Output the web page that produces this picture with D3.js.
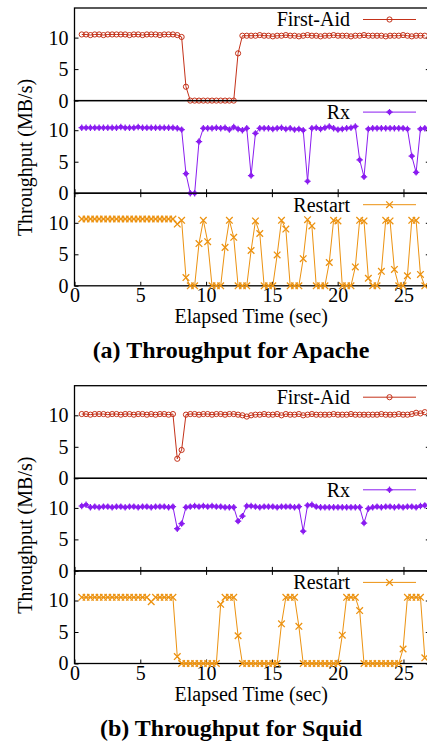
<!DOCTYPE html>
<html>
<head>
<meta charset="utf-8">
<script src="https://cdn.jsdelivr.net/npm/d3@7"></script>
<style>
  body { margin: 0; background: #fff; }
  svg { display: block; }
</style>
</head>
<body>
<div id="chart"></div>
<script>

/* ::::::::::::::::::::::::::::::::::::::::::::::::::::: */
/* @@@ DATAS @@@ */
/* ::::::::::::::::::::::::::::::::::::::::::::::::::::: */

// one sample every 0.33 s, starting at 0.55 s
let sampleStart = 0.55
let sampleStep = 0.33

let xTicks = [0, 5, 10, 15, 20, 25]
let yTicks = [0, 5, 10]
let seriesNames = ["First-Aid", "Rx", "Restart"]
let captions = ["(a) Throughput for Apache", "(b) Throughput for Squid"]

let firstAidApache = [
  10.5, 10.5, 10.4, 10.5, 10.5, 10.4, 10.5, 10.5, 10.5, 10.5,
  10.5, 10.4, 10.5, 10.5, 10.4, 10.5, 10.5, 10.5, 10.4, 10.5,
  10.5, 10.5, 10.4, 10.1, 2.2, 0, 0, 0, 0, 0,
  0, 0, 0, 0, 0, 0, 7.5, 10.3, 10.3, 10.3,
  10.3, 10.4, 10.3, 10.3, 10.2, 10.3, 10.3, 10.4, 10.3, 10.3,
  10.2, 10.3, 10.4, 10.3, 10.3, 10.2, 10.3, 10.3, 10.4, 10.3,
  10.3, 10.3, 10.2, 10.3, 10.3, 10.4, 10.3, 10.3, 10.3, 10.3,
  10.2, 10.3, 10.3, 10.3, 10.4, 10.3, 10.2, 10.3, 10.3, 10.3
]
let rxApache = [
  10.4, 10.4, 10.4, 10.4, 10.4, 10.4, 10.4, 10.4, 10.4, 10.5,
  10.4, 10.4, 10.4, 10.5, 10.4, 10.4, 10.4, 10.4, 10.4, 10.4,
  10.4, 10.4, 10.3, 10.1, 3.1, 0, 0, 8.2, 10.3, 10.3,
  10.3, 10.4, 10.3, 10.4, 10.1, 10.5, 10.2, 10.0, 10.3, 2.8,
  9.5, 10.3, 10.3, 10.3, 10.2, 10.3, 10.4, 10.2, 10.3, 10.1,
  10.2, 10.0, 1.9, 10.3, 10.4, 10.2, 10.4, 10.6, 10.3, 10.1,
  10.2, 10.3, 10.4, 10.6, 5.3, 2.6, 10.2, 10.3, 10.3, 10.3,
  10.3, 10.3, 10.3, 10.3, 10.3, 10.2, 5.9, 3.3, 10.2, 10.3
]
let restartApache = [
  10.6, 10.6, 10.6, 10.6, 10.6, 10.6, 10.6, 10.6, 10.6, 10.6,
  10.6, 10.6, 10.6, 10.6, 10.6, 10.6, 10.6, 10.6, 10.6, 10.6,
  10.6, 10.6, 9.8, 10.4, 1.3, 0, 0, 6.7, 10.4, 7.0,
  0, 0, 0, 6.1, 10.4, 7.7, 0, 0, 0, 5.6,
  10.3, 8.3, 0, 0, 0, 4.9, 10.4, 9.0, 0, 0,
  0, 4.3, 10.5, 9.5, 0, 0, 0, 3.7, 10.4, 10.3,
  0, 0, 0, 3.0, 10.4, 10.3, 1.2, 0, 0, 2.3,
  10.4, 10.3, 2.6, 0, 0, 1.6, 10.4, 10.4, 1.8, 0
]

let firstAidSquid = [
  10.2, 10.2, 10.1, 10.2, 10.2, 10.2, 10.1, 10.2, 10.2, 10.1,
  10.2, 10.2, 10.1, 10.2, 10.2, 10.1, 10.2, 10.1, 10.2, 10.2,
  10.1, 10.2, 3.1, 4.5, 10.1, 10.2, 10.2, 10.1, 10.2, 10.2,
  10.1, 10.2, 10.2, 10.1, 10.2, 10.2, 10.1, 10.0, 9.8, 10.0,
  10.1, 10.1, 10.2, 10.1, 10.1, 10.2, 10.0, 10.2, 10.1, 10.1,
  10.2, 10.0, 10.1, 10.2, 10.1, 10.1, 10.1, 10.1, 10.2, 10.1,
  10.1, 10.1, 10.2, 10.1, 10.1, 10.1, 10.1, 10.1, 10.1, 10.2,
  10.1, 10.1, 10.1, 10.2, 10.1, 10.1, 10.2, 10.4, 10.3, 10.5
]
let rxSquid = [
  10.3, 10.5, 10.1, 10.2, 10.1, 10.2, 10.2, 10.1, 10.2, 10.2,
  10.1, 10.2, 10.2, 10.1, 10.2, 10.2, 10.1, 10.2, 10.2, 10.2,
  10.1, 10.2, 6.7, 7.5, 10.1, 10.2, 10.3, 10.2, 10.3, 10.2,
  10.3, 10.2, 10.2, 10.1, 10.1, 10.1, 7.9, 8.7, 10.3, 10.3,
  10.2, 10.1, 10.2, 10.2, 10.2, 10.1, 10.2, 10.2, 10.2, 10.1,
  10.2, 6.3, 10.4, 10.5, 10.2, 10.1, 10.1, 10.1, 10.1, 10.1,
  10.1, 10.1, 10.1, 10.1, 10.1, 7.6, 9.9, 10.1, 10.2, 10.1,
  10.2, 10.2, 10.1, 10.2, 10.1, 10.2, 10.2, 10.1, 10.3, 10.4
]
let restartSquid = [
  10.5, 10.5, 10.5, 10.5, 10.5, 10.5, 10.5, 10.5, 10.5, 10.5,
  10.5, 10.5, 10.5, 10.5, 10.5, 10.5, 9.8, 10.5, 10.5, 10.5,
  10.5, 10.5, 1.1, 0, 0, 0, 0, 0, 0, 0,
  0, 0, 9.4, 10.5, 10.5, 10.5, 4.4, 0, 0, 0,
  0, 0, 0, 0, 0, 0, 6.3, 10.5, 10.5, 10.5,
  5.9, 0, 0, 0, 0, 0, 0, 0, 0, 0,
  4.5, 10.5, 10.5, 10.5, 8.4, 0, 0, 0, 0, 0,
  0, 0, 0, 0, 2.3, 10.5, 10.5, 10.5, 10.5, 0.9
]

/* ::::::::::::::::::::::::::::::::::::::::::::::::::::: */
/* @@@ CONSTANTS @@@ */
/* ::::::::::::::::::::::::::::::::::::::::::::::::::::: */

let w = 427
let h = 742
let plotLeft = 74.5
let plotRight = 429.8
let panelH = 92.6
let yMax = 14.7
let figureTops = [8, 385.7]
let colors = ["#c4321a", "#8a1cf0", "#ec9210"]
let tickLen = 4
let serif = "'Liberation Serif'"

let x = d3.scaleLinear().domain([0, 27]).range([plotLeft, plotRight])

let svg = d3.select("#chart")
    .append("svg")
    .attr("width", w)
    .attr("height", h)
    .style("font-family", serif)

svg.append("rect").attr("width", w).attr("height", h).attr("fill", "#fff")

/* @@@ fonction : marker for a series @@@ */
let drawMarker = function (g, k, cx, cy) {
  if (k === 0) {
    g.append("circle")
        .attr("cx", cx).attr("cy", cy).attr("r", 2.6)
        .attr("fill", "none").attr("stroke", colors[k]).attr("stroke-width", 1)
  } else if (k === 1) {
    g.append("circle")
        .attr("cx", cx).attr("cy", cy).attr("r", 2.3)
        .attr("fill", colors[k])
    g.append("path")
        .attr("d", "M" + (cx - 3.2) + "," + cy + "H" + (cx + 3.2) + "M" + cx + "," + (cy - 3.2) + "V" + (cy + 3.2))
        .attr("stroke", colors[k]).attr("stroke-width", 1.2)
  } else {
    let s = 3.3
    g.append("path")
        .attr("d", "M" + (cx - s) + "," + (cy - s) + "L" + (cx + s) + "," + (cy + s) +
            "M" + (cx - s) + "," + (cy + s) + "L" + (cx + s) + "," + (cy - s))
        .attr("stroke", colors[k]).attr("stroke-width", 1.3)
  }
}

/* @@@ fonction : axis text style @@@ */
let styleAxis = function (a) {
  a.select(".domain").remove()
  a.attr("font-family", null).attr("font-size", null)
  a.selectAll("text").style("font-family", serif).style("font-size", "20px")
  a.selectAll(".tick line").attr("stroke", "#000")
}

/* @@@ fonction : one figure = 3 stacked panels @@@ */
let drawFigure = function (top, seriesList, caption) {

  seriesList.forEach(function (values, k) {
    let y0 = top + k * panelH
    let y = d3.scaleLinear().domain([0, yMax]).range([y0 + panelH, y0])
    let g = svg.append("g")

    // y ticks, left and mirrored on the right
    g.append("g")
        .attr("transform", "translate(" + plotLeft + ",0)")
        .call(d3.axisLeft(y).tickValues(yTicks).tickSize(-tickLen).tickPadding(6))
        .call(styleAxis)
    g.append("g")
        .attr("transform", "translate(" + plotRight + ",0)")
        .call(d3.axisRight(y).tickValues(yTicks).tickSize(-tickLen).tickFormat(""))
        .call(styleAxis)

    // x ticks : bottom of the middle panel, top + bottom of the last one
    if (k >= 1) {
      g.append("g")
          .attr("transform", "translate(0," + (y0 + panelH) + ")")
          .call(d3.axisBottom(x).tickValues(xTicks).tickSize(-tickLen).tickPadding(2)
              .tickFormat(k === 2 ? d3.format("d") : ""))
          .call(styleAxis)
    }
    if (k === 2) {
      g.append("g")
          .attr("transform", "translate(0," + y0 + ")")
          .call(d3.axisTop(x).tickValues(xTicks).tickSize(-tickLen).tickFormat(""))
          .call(styleAxis)
    }

    g.append("rect")
        .attr("x", plotLeft).attr("y", y0)
        .attr("width", plotRight - plotLeft).attr("height", panelH)
        .attr("fill", "none").attr("stroke", "#000").attr("stroke-width", 1.3)

    // series line + markers
    let pts = values.map(function (v, i) {
      return [x(sampleStart + i * sampleStep), y(v)]
    })
    g.append("path")
        .attr("d", d3.line()(pts))
        .attr("fill", "none")
        .attr("stroke", colors[k])
        .attr("stroke-width", 1)
    let mg = g.append("g")
    pts.forEach(function (p) { drawMarker(mg, k, p[0], p[1]) })

    // legend
    let ly = y0 + 11.5
    g.append("text")
        .attr("x", 350).attr("y", ly + 6.8)
        .attr("text-anchor", "end")
        .style("font-size", "20px")
        .text(seriesNames[k])
    g.append("line")
        .attr("x1", 363).attr("x2", 416).attr("y1", ly).attr("y2", ly)
        .attr("stroke", colors[k]).attr("stroke-width", 1)
    drawMarker(g, k, 389.5, ly)
  })

  let bottom = top + 3 * panelH

  svg.append("text")
      .attr("x", (plotLeft + plotRight) / 2 - 1)
      .attr("y", Math.round(bottom) + 37)
      .attr("text-anchor", "middle")
      .style("font-size", "20px")
      .text("Elapsed Time (sec)")

  svg.append("text")
      .attr("transform", "translate(31.5," + (top + 149.5) + ") rotate(-90)")
      .attr("text-anchor", "middle")
      .style("font-size", "20px")
      .text("Throughput (MB/s)")

  svg.append("text")
      .attr("x", 231)
      .attr("y", bottom + 72)
      .attr("text-anchor", "middle")
      .style("font-size", "24px")
      .style("font-weight", "bold")
      .text(caption)
}

drawFigure(figureTops[0], [firstAidApache, rxApache, restartApache], captions[0])
drawFigure(figureTops[1], [firstAidSquid, rxSquid, restartSquid], captions[1])

</script>
</body>
</html>
